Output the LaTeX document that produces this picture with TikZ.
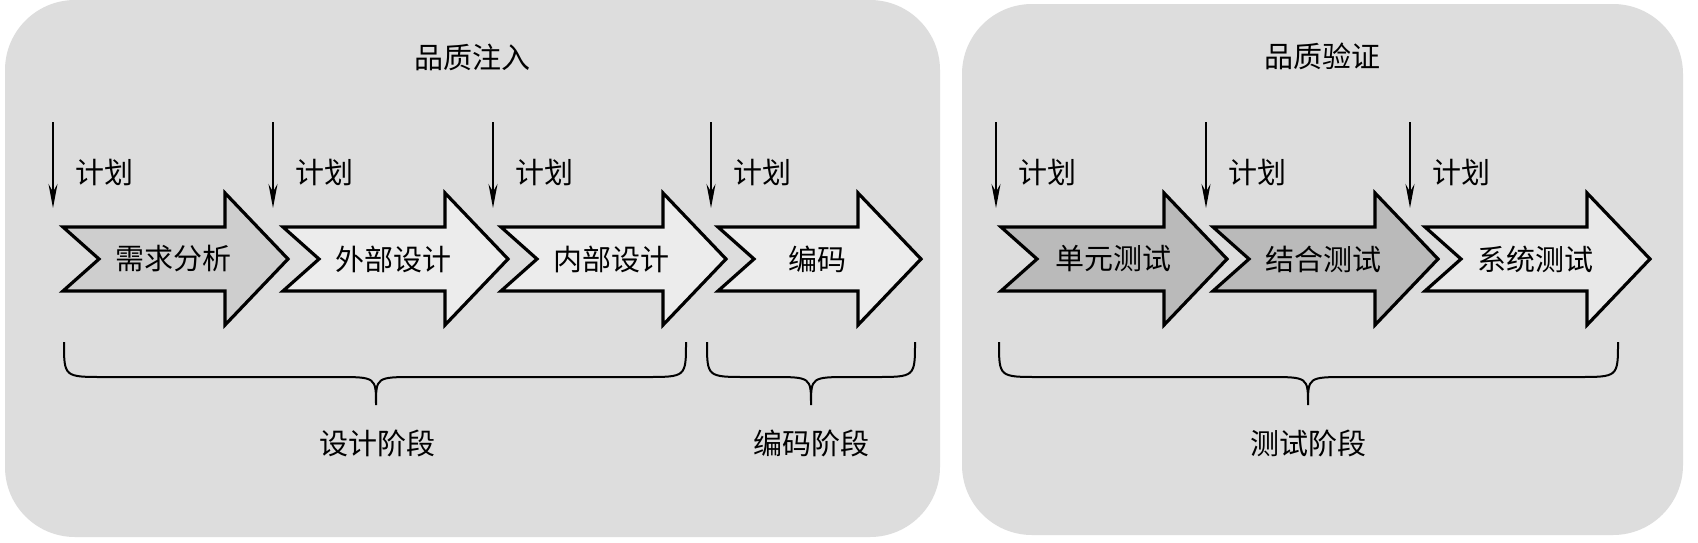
\documentclass[tikz,border=0pt]{standalone}
\usepackage{fontspec}
\setmainfont{Noto Sans CJK SC}
\usetikzlibrary{arrows.meta}
\definecolor{panelgray}{RGB}{221,221,221}
\definecolor{arrA}{RGB}{206,206,206}
\definecolor{arrB}{RGB}{236,236,236}
\definecolor{arrC}{RGB}{186,186,186}
\definecolor{arrD}{RGB}{232,232,232}
\newcommand\bigarr[6]{%
  \filldraw[fill=#4, line width=3.2pt, line join=miter]
    (#2,227) -- ({#2+#3-63},227) -- ({#2+#3-63},193) -- ({#2+#3},259)
    -- ({#2+#3-63},325) -- ({#2+#3-63},291) -- (#2,291) -- ({#2+36},259) -- cycle;
  \node[txt] (#1) at ({#2+#5},259) {#6};
}
\newcommand\planarr[2]{%
  \coordinate (#1s) at (#2,122);
  \coordinate (#1e) at (#2,208);
  \draw[plan] (#1s) -- (#1e);
  \node[txt] (#1t) at ({#2+51},172) {计划};
}
\newcommand\curlybrace[5]{% name, L, R, c, d
  \coordinate (#1l) at (#2,342);
  \coordinate (#1r) at (#3,342);
  \coordinate (#1tip) at (#4,405);
  \draw[bracestyle] (#1l) .. controls (#2,377) .. ({#2+#5},377) -- ({#4-#5},377)
     .. controls (#4,377) .. (#1tip) .. controls (#4,377) .. ({#4+#5},377)
     -- ({#3-#5},377) .. controls (#3,377) .. (#1r);
}
\begin{document}
\begin{tikzpicture}[x=1pt,y=-1pt,
  txt/.style={font=\fontsize{29}{34}\selectfont, inner sep=0pt, text=black},
  plan/.style={line width=1.6pt, -{Stealth[length=24pt,width=9pt]}},
  bracestyle/.style={line width=2pt}]
\useasboundingbox (0,0) rectangle (1698,542);
\fill[white] (0,0) rectangle (1698,542);
% panels
\fill[panelgray, rounded corners=70pt] (5,0) rectangle (940,537);
\fill[panelgray, rounded corners=70pt] (962,4) rectangle (1683,535);
% titles
\node[txt] (t1) at (472,57) {品质注入};
\node[txt] (t2) at (1322,56) {品质验证};
% plan arrows
\planarr{pa}{53}
\planarr{pb}{273}
\planarr{pc}{493}
\planarr{pd}{711}
\planarr{pe}{996}
\planarr{pf}{1206}
\planarr{pg}{1410}
% big arrows
\bigarr{a1}{63}{225}{arrA}{110}{需求分析}
\bigarr{a2}{283}{225}{arrB}{110}{外部设计}
\bigarr{a3}{501}{225}{arrB}{110}{内部设计}
\bigarr{a4}{718}{203}{arrB}{99}{编码}
\bigarr{a5}{1001}{226}{arrC}{112}{单元测试}
\bigarr{a6}{1213}{225}{arrC}{110}{结合测试}
\bigarr{a7}{1425}{225}{arrD}{110}{系统测试}
% braces
\curlybrace{b1}{64}{686}{376}{40}
\curlybrace{b2}{707}{915}{811}{40}
\curlybrace{b3}{999}{1618}{1308}{40}
\node[txt] (l1) at (377,443) {设计阶段};
\node[txt] (l2) at (811,443) {编码阶段};
\node[txt] (l3) at (1308,443) {测试阶段};
\end{tikzpicture}
\end{document}
